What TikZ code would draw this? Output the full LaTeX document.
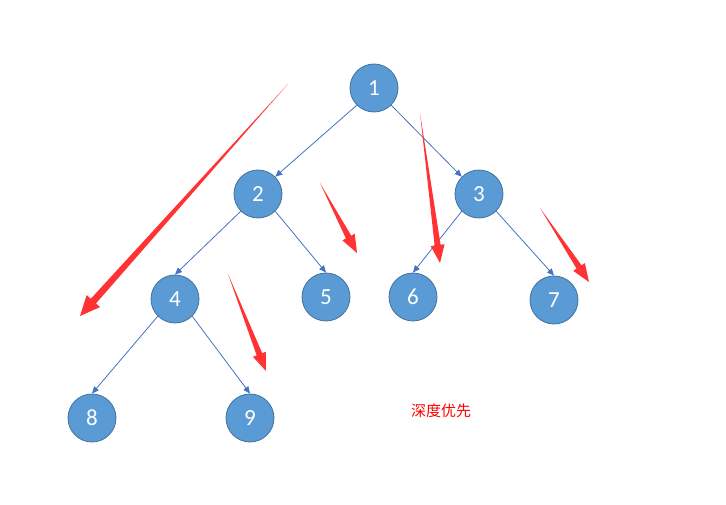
\documentclass[tikz,border=0pt]{standalone}
\usepackage{fontspec}
\setmainfont{Carlito}
\newfontfamily\cjk{Noto Sans CJK SC}
\usetikzlibrary{arrows.meta,calc}
\definecolor{nodefill}{HTML}{5B9BD5}
\definecolor{nodedraw}{HTML}{41719C}
\definecolor{edgeblue}{HTML}{4472C4}
\definecolor{redarr}{HTML}{FF3333}
\tikzset{
  treenode/.style={circle,fill=nodefill,draw=nodedraw,line width=0.8pt,minimum size=48pt,inner sep=0pt,text=white,font=\fontsize{23}{25}\selectfont},
  edge/.style={draw=edgeblue,line width=0.8pt,-{Triangle[length=7pt,width=6pt]}},
  redfill/.style={fill=redarr,draw=none}
}
\newcommand{\taperarrow}[6]{% name, start, tip, headlen, headhalf, shafthalf
  \coordinate (#1b) at ($(#3)!#4!(#2)$);
  \fill[redfill] (#2) -- ($(#1b)!#6!90:(#3)$) -- ($(#1b)!#5!90:(#3)$) -- (#3)
     -- ($(#1b)!#5!-90:(#3)$) -- ($(#1b)!#6!-90:(#3)$) -- cycle;
}
\begin{document}
\begin{tikzpicture}[x=1pt,y=-1pt]
\useasboundingbox (0,0) rectangle (726,505);
\node[treenode] (n1) at (374,88) {1};
\node[treenode] (n2) at (258,194) {2};
\node[treenode] (n3) at (479,194) {3};
\node[treenode] (n4) at (175,299) {4};
\node[treenode] (n5) at (326,297) {5};
\node[treenode] (n6) at (413,297) {6};
\node[treenode] (n7) at (554,300) {7};
\node[treenode] (n8) at (92,418) {8};
\node[treenode] (n9) at (250,418) {9};
\draw[edge] (n1.south west) -- (n2.north east);
\draw[edge] (n1.south east) -- (n3.north west);
\draw[edge] (n2.south west) -- (n4.north);
\draw[edge] (n2.south east) -- (n5.north);
\draw[edge] (n3.south west) -- (n6.north);
\draw[edge] (n3.south east) -- (n7.north);
\draw[edge] (n4.south west) -- (n8.north);
\draw[edge] (n4.south east) -- (n9.north);
\node[text=red,font=\cjk\fontsize{15}{17}\selectfont] (lbl) at (441,411) {深度优先};
\coordinate (aS) at (288,84);  \coordinate (aT) at (80,316);
\coordinate (bS) at (320,183); \coordinate (bT) at (357,253);
\coordinate (cS) at (420,113); \coordinate (cT) at (440,263);
\coordinate (dS) at (540,208); \coordinate (dT) at (589,282);
\coordinate (eS) at (228,274); \coordinate (eT) at (266,371);
\taperarrow{a}{aS}{aT}{20pt}{9pt}{3.5pt}
\taperarrow{b}{bS}{bT}{18pt}{7pt}{3pt}
\taperarrow{c}{cS}{cT}{18pt}{7pt}{3pt}
\taperarrow{d}{dS}{dT}{18pt}{7pt}{3pt}
\taperarrow{e}{eS}{eT}{18pt}{7pt}{3pt}
\end{tikzpicture}
\end{document}
